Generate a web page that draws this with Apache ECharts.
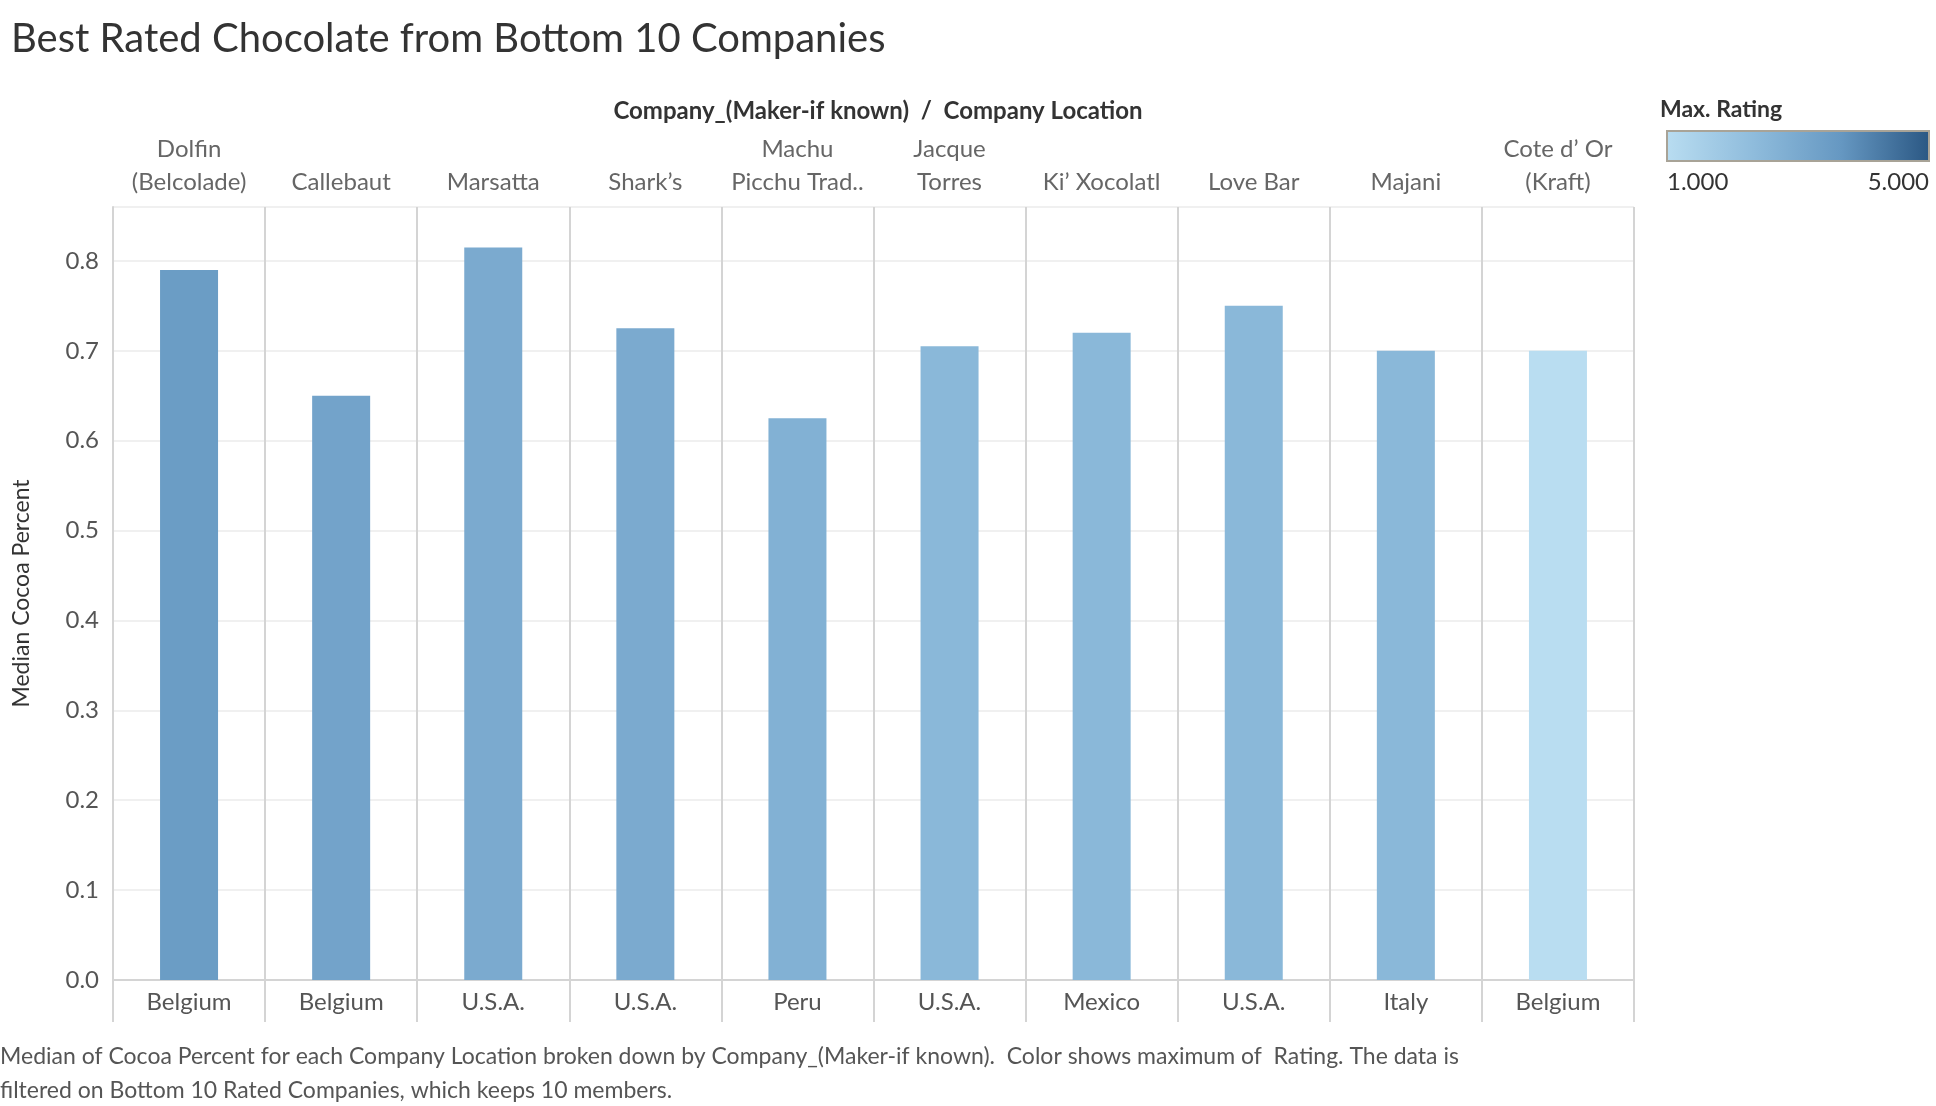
<!DOCTYPE html>
<html lang="en">
<head>
    <meta charset="UTF-8">
    <title>Best Rated Chocolate</title>
    <style>html,body{margin:0;padding:0;background:#fff;}</style>
</head>
<body>
<div id="chart" style="width:1936px;height:1106px;"></div>
<script src="https://cdn.jsdelivr.net/npm/echarts@6/dist/echarts.min.js"></script>
<script>
    var companies = ['Dolfin\n(Belcolade)', 'Callebaut', 'Marsatta', 'Shark\u2019s', 'Machu\nPicchu Trad..',
        'Jacque\nTorres', 'Ki\u2019 Xocolatl', 'Love Bar', 'Majani', 'Cote d\u2019 Or\n(Kraft)'];
    var locations = ['Belgium', 'Belgium', 'U.S.A.', 'U.S.A.', 'Peru', 'U.S.A.', 'Mexico', 'U.S.A.', 'Italy', 'Belgium'];
    var cocoa = [0.79, 0.65, 0.815, 0.725, 0.625, 0.705, 0.72, 0.75, 0.70, 0.70];
    var maxRating = [3.5, 3.25, 3.0, 3.0, 2.75, 2.5, 2.5, 2.5, 2.5, 1.0];

    var font = 'Lato, "Open Sans", sans-serif';
    var chart = echarts.init(document.getElementById('chart'));

    var data = [];
    for (var i = 0; i < companies.length; i++) {
        data.push([companies[i], cocoa[i], maxRating[i]]);
    }

    chart.setOption({
        animation: false,
        textStyle: {fontFamily: font},
        title: [
            {text: 'Best Rated Chocolate from Bottom 10 Companies', left: 6, top: 14,
                textStyle: {fontSize: 40, fontWeight: 'normal', color: '#333', fontFamily: font}},
            {text: 'Company_(Maker-if known)  /  Company Location', left: 873, top: 94, textAlign: 'center',
                textStyle: {fontSize: 24, fontWeight: 'bold', color: '#333', fontFamily: font}}
        ],
        visualMap: {
            show: false, type: 'continuous', dimension: 2, min: 1, max: 5,
            inRange: {color: ['#b9ddf1', '#8fbcdc', '#6698c2', '#2a5783']}
        },
        graphic: [
            {type: 'text', left: 1660, top: 98, style: {text: 'Max. Rating', fontSize: 23, fontWeight: 'bold', fill: '#333', fontFamily: font}},
            {type: 'rect', shape: {x: 1667, y: 131, width: 262, height: 30},
                style: {stroke: '#a8a397', lineWidth: 2,
                    fill: new echarts.graphic.LinearGradient(0, 0, 1, 0, [
                        {offset: 0, color: '#b9ddf1'}, {offset: 0.33, color: '#8fbcdc'},
                        {offset: 0.66, color: '#6698c2'}, {offset: 1, color: '#2a5783'}])}},
            {type: 'text', left: 1667, top: 170, style: {text: '1.000', fontSize: 24, fill: '#333', fontFamily: font}},
            {type: 'text', right: 7, top: 170, style: {text: '5.000', fontSize: 24, fill: '#333', fontFamily: font}},
            {type: 'text', left: 0, top: 1040, style: {
                text: 'Median of Cocoa Percent for each Company Location broken down by Company_(Maker-if known).  Color shows maximum of  Rating. The data is\nfiltered on Bottom 10 Rated Companies, which keeps 10 members.',
                fontSize: 23, lineHeight: 34, fill: '#555', fontFamily: font}}
        ],
        grid: {left: 113, right: 302, top: 207, bottom: 126},
        xAxis: [
            {
                type: 'category', position: 'top', data: companies,
                axisLine: {show: true, lineStyle: {color: '#d4d4d4', width: 2}},
                axisTick: {show: true, length: 82, alignWithLabel: false, lineStyle: {color: '#d4d4d4', width: 2}},
                splitLine: {show: true, lineStyle: {color: '#d4d4d4', width: 2}},
                axisLabel: {fontSize: 24, color: '#666', lineHeight: 33, margin: 8, interval: 0, fontFamily: font}
            },
            {
                type: 'category', position: 'bottom', data: locations,
                axisLine: {show: true, lineStyle: {color: '#d4d4d4', width: 2}},
                axisTick: {show: true, length: 42, lineStyle: {color: '#d4d4d4', width: 2}},
                axisLabel: {fontSize: 24, color: '#555', margin: 10, interval: 0, fontFamily: font}
            }
        ],
        yAxis: {
            type: 'value', min: 0, max: 0.86, interval: 0.1,
            name: 'Median Cocoa Percent', nameLocation: 'middle', nameGap: 80,
            nameTextStyle: {fontSize: 23, color: '#333', fontFamily: font},
            axisLine: {show: true, lineStyle: {color: '#d4d4d4', width: 2}},
            axisTick: {show: false},
            splitLine: {lineStyle: {color: '#f0f0f0', width: 2}},
            axisLabel: {fontSize: 24, color: '#555', margin: 14, fontFamily: font,
                formatter: function (v) { return v > 0.85 ? '' : v.toFixed(1); }}
        },
        series: [{
            type: 'bar', xAxisIndex: 0, barWidth: 58,
            encode: {x: 0, y: 1},
            data: data
        }]
    });
</script>
</body>
</html>
